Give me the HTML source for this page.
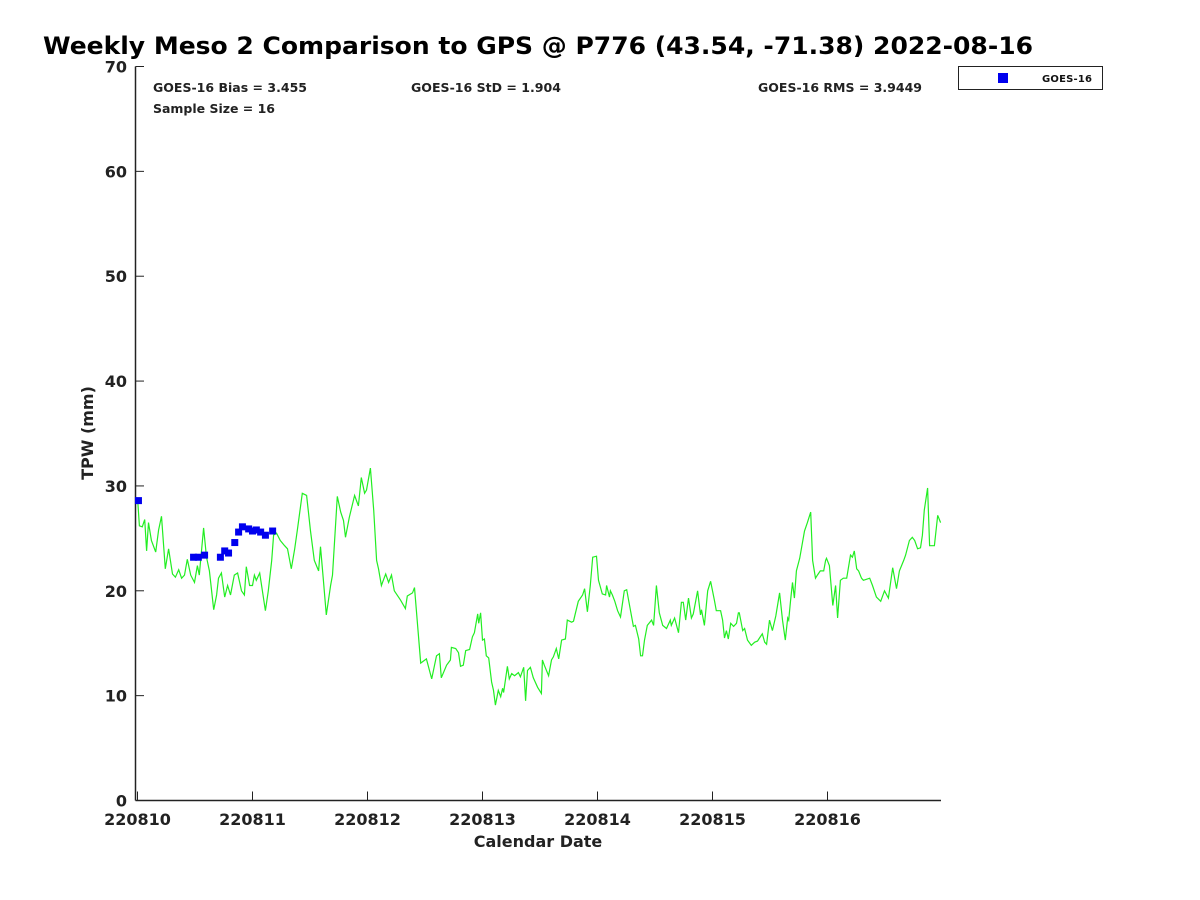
<!DOCTYPE html>
<html><head><meta charset="utf-8"><style>
body{margin:0;background:#fff;}
svg{display:block;font-family:"DejaVu Sans","Liberation Sans",sans-serif;}
</style></head><body>
<svg id="chart" width="1200" height="900" viewBox="0 0 1200 900">
<text x="43" y="54" font-size="24" font-weight="bold" fill="#000" textLength="990" lengthAdjust="spacingAndGlyphs">Weekly Meso 2 Comparison to GPS @ P776 (43.54, -71.38) 2022-08-16</text>
<g font-size="12" font-weight="bold" fill="#222">
<text x="153" y="92" textLength="154" lengthAdjust="spacingAndGlyphs">GOES-16 Bias = 3.455</text>
<text x="411" y="92" textLength="150" lengthAdjust="spacingAndGlyphs">GOES-16 StD = 1.904</text>
<text x="758" y="92" textLength="164" lengthAdjust="spacingAndGlyphs">GOES-16 RMS = 3.9449</text>
<text x="153" y="113" textLength="122" lengthAdjust="spacingAndGlyphs">Sample Size = 16</text>
</g>
<g>
<rect x="958.5" y="66.5" width="144" height="23" fill="#fff" stroke="#222" stroke-width="1"/>
<rect x="998" y="73" width="10" height="10" fill="#0000ee"/>
<text x="1042" y="82" font-size="10" font-weight="bold" fill="#111" textLength="50" lengthAdjust="spacing">GOES-16</text>
</g>
<g id="axes"></g>
<g id="series"></g>
<text transform="translate(93,433) rotate(-90)" text-anchor="middle" font-size="16" font-weight="bold" fill="#222">TPW (mm)</text>
<text x="538" y="847" text-anchor="middle" font-size="16" font-weight="bold" fill="#222">Calendar Date</text>
</svg>
<script>
const xTickLabels = ["220810","220811","220812","220813","220814","220815","220816"];
const yTicks = [0,10,20,30,40,50,60,70];
const gpsHours = [0,0.4,1.0,1.5,1.9,2.3,2.9,3.8,4.4,5.0,5.8,6.5,7.3,7.9,8.6,9.2,9.8,10.4,11.1,11.9,12.5,12.9,13.8,14.4,15.0,15.9,16.5,16.9,17.5,18.2,18.8,19.4,20.2,20.9,21.7,22.3,22.7,23.4,24.0,24.4,24.8,25.5,26.7,27.3,28.0,28.4,29.0,29.8,30.7,31.3,32.1,32.8,33.4,34.4,35.3,36.1,36.9,37.8,38.2,38.8,39.4,40.3,40.7,41.7,42.4,43.0,43.4,44.2,45.3,46.1,46.7,47.4,47.8,48.6,49.3,49.9,50.3,50.9,51.3,51.8,52.4,53.0,53.6,54.9,55.9,56.3,57.4,57.8,59.1,60.3,61.4,62.4,63.0,63.4,64.5,65.3,65.5,66.4,67.0,67.4,68.0,68.5,69.3,69.9,70.3,71.0,71.2,71.6,72.0,72.4,72.8,73.3,73.9,74.3,74.7,75.3,75.8,76.2,76.4,77.2,77.6,78.1,78.7,79.5,79.9,80.6,81.0,81.4,82.0,82.6,83.5,84.3,84.5,84.9,85.8,86.4,86.8,87.4,87.9,88.5,89.3,89.7,90.6,91.0,91.4,92.0,92.9,93.3,93.9,94.5,95.0,95.8,96.2,97.0,97.7,97.9,98.5,98.7,99.1,99.6,100.2,100.8,101.6,102.1,102.5,103.1,103.5,103.9,104.6,105.0,105.4,105.8,106.4,107.3,107.7,108.3,108.9,109.6,110.4,111.2,111.4,112.1,112.9,113.5,113.9,114.4,115.0,115.6,116.0,116.9,117.5,117.7,118.3,119.0,119.6,120.4,120.8,121.7,122.1,122.5,122.9,123.3,123.8,124.4,125.0,125.4,125.6,126.3,126.7,127.3,128.1,128.8,129.4,129.8,130.4,130.9,131.3,131.9,132.5,133.2,134.0,134.6,135.2,135.7,135.9,136.3,136.7,137.1,137.5,138.2,139.2,139.8,140.5,140.9,141.5,141.9,142.5,143.2,143.6,143.8,144.4,145.1,145.7,146.1,146.7,147.3,148.0,148.8,149.2,149.6,150.1,150.5,151.1,151.5,152.8,153.4,154.2,155.1,155.9,156.7,157.6,158.4,159.0,159.9,160.3,161.1,161.7,162.2,162.8,163.4,163.8,164.2,164.9,165.3,165.7,166.3,167.0,167.6];
const gpsTpw = [28.9,26.2,26.1,26.8,23.8,26.5,24.8,23.7,25.8,27.1,22.1,24.0,21.6,21.3,22.0,21.2,21.5,23.0,21.5,20.8,22.4,21.5,26.0,23.2,21.9,18.2,19.6,21.2,21.7,19.4,20.5,19.6,21.5,21.7,20.0,19.6,22.3,20.5,20.5,21.5,21.0,21.7,18.1,20.0,22.9,25.3,25.5,24.8,24.3,24.0,22.1,24.0,25.9,29.3,29.1,25.7,22.9,21.9,24.2,21.0,17.7,20.5,21.5,29.0,27.5,26.7,25.1,27.0,29.1,28.1,30.8,29.3,29.6,31.7,27.7,22.9,22.1,20.5,21.0,21.6,20.8,21.5,20.0,19.1,18.3,19.5,19.8,20.3,13.1,13.5,11.6,13.8,14.0,11.7,12.9,13.4,14.6,14.5,14.1,12.8,12.9,14.3,14.4,15.6,16.0,17.8,16.9,17.9,15.3,15.4,13.8,13.6,11.3,10.5,9.1,10.5,9.9,10.7,10.3,12.8,11.6,12.1,11.9,12.2,11.8,12.7,9.5,12.4,12.7,11.7,10.8,10.2,13.4,12.9,11.9,13.4,13.7,14.5,13.5,15.3,15.4,17.2,17.0,17.1,17.9,19.0,19.6,20.2,18.0,20.5,23.2,23.3,21.0,19.7,19.6,20.5,19.4,20.0,19.6,19.0,18.1,17.5,20.0,20.1,19.1,17.6,16.6,16.7,15.4,13.8,13.8,15.3,16.7,17.2,16.7,20.5,17.9,16.7,16.4,17.2,16.7,17.4,16.0,18.9,18.9,17.2,19.3,17.4,17.8,20.0,17.7,18.2,16.7,20.0,20.9,19.1,18.1,18.1,17.2,15.5,16.2,15.4,16.9,16.6,16.9,17.9,17.9,16.2,16.4,15.3,14.8,15.1,15.2,15.5,15.9,15.1,14.9,17.2,16.2,17.6,19.8,17.2,15.3,17.4,17.2,19.1,20.8,19.3,21.9,23.1,25.7,26.5,27.5,22.9,21.2,21.5,21.9,21.9,22.9,23.1,22.4,18.6,20.5,17.4,21.0,21.2,21.2,23.4,23.2,23.8,22.1,21.9,21.2,21.0,21.2,20.5,19.4,19.0,20.0,19.3,22.2,20.2,21.9,22.9,23.4,24.8,25.1,24.8,24.0,24.1,25.3,27.7,29.8,24.3,24.3,24.3,27.2,26.5];
const goesHours = [0.2,11.7,12.7,14.0,17.3,18.2,19.0,20.3,21.1,21.9,23.2,24.0,24.8,25.7,26.7,28.2];
const goesTpw = [28.6,23.2,23.2,23.4,23.2,23.8,23.6,24.6,25.6,26.1,25.9,25.7,25.8,25.6,25.3,25.7];

const NS = "http://www.w3.org/2000/svg";
const X0 = 137.5, PX_PER_HOUR = 115/24, Y0 = 800.5, PX_PER_MM = 734/70;
const xScale = h => X0 + h * PX_PER_HOUR;
const yScale = v => Y0 - v * PX_PER_MM;
function mk(tag, attrs, parent){
  const el = document.createElementNS(NS, tag);
  for (const k in attrs) el.setAttribute(k, attrs[k]);
  parent.appendChild(el);
  return el;
}
const axes = document.getElementById("axes");
const series = document.getElementById("series");

const yAxis = mk("line", {x1:135.5, y1:yScale(70), x2:135.5, y2:Y0, stroke:"#222", "stroke-width":1.5}, axes);


const xAxis = mk("line", {x1:135.5, y1:Y0, x2:941, y2:Y0, stroke:"#222", "stroke-width":1.5}, axes);



yTicks.forEach(v => {
  const y = yScale(v);
  const t = mk("line", {x1:135.5, y1:y, x2:144, y2:y, stroke:"#222", "stroke-width":1}, axes);
  
  
  const lb = mk("text", {x:127, y:y+6, "text-anchor":"end", "font-size":16, "font-weight":"bold", fill:"#222"}, axes);
  lb.textContent = String(v);
  
  
});
xTickLabels.forEach((s, i) => {
  const x = xScale(i * 24);
  const t = mk("line", {x1:x, y1:Y0, x2:x, y2:Y0-9, stroke:"#222", "stroke-width":1}, axes);
  
  
  const lb = mk("text", {x:x, y:825, "text-anchor":"middle", "font-size":16, "font-weight":"bold", fill:"#222"}, axes);
  lb.textContent = s;
  
  
});

const pts = gpsHours.map((h, i) => xScale(h).toFixed(1) + "," + yScale(gpsTpw[i]).toFixed(1)).join(" ");
const line = mk("polyline", {points:pts, fill:"none", stroke:"#22ee22", "stroke-width":1.2}, series);



goesHours.forEach((h, i) => {
  const r = mk("rect", {x:xScale(h)-3.5, y:yScale(goesTpw[i])-3.5, width:7, height:7, fill:"#0000ee"}, series);
  
  
});
</script>
</body></html>
